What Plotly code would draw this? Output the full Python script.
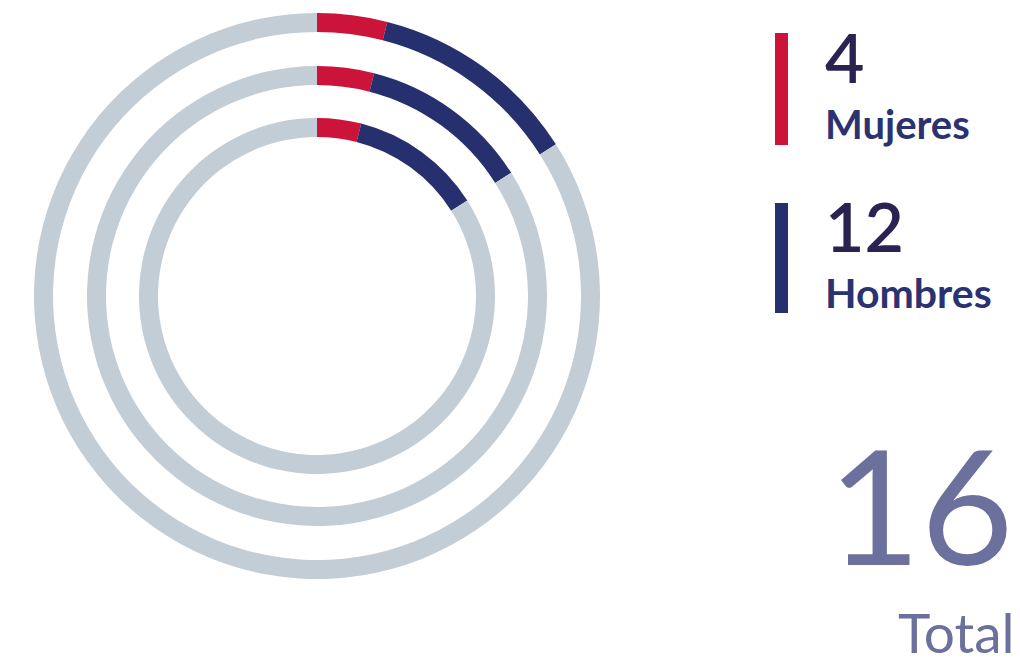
import plotly.graph_objects as go

W, H = 1020, 665

# Data
categorias = ["Mujeres", "Hombres", "Resto"]
mujeres = 4
hombres = 12
resto = 84
total = 16
valores_anillo = [mujeres, hombres, resto]

colores = ["#cc1339", "#27306e", "#c2cdd5"]

# Ring geometry (pixels): centre and outer radius / thickness
cx, cy = 317, 296
anillos = [(283, 19), (230, 19), (178, 19)]


def px_x(x):
    return x / W


def px_y(y):
    return 1 - y / H


fig = go.Figure()

for r, grosor in anillos:
    fig.add_trace(go.Pie(
        labels=categorias,
        values=valores_anillo,
        sort=False,
        direction="clockwise",
        rotation=0,
        hole=(r - grosor) / r,
        marker=dict(colors=colores, line=dict(width=0)),
        textinfo="none",
        hoverinfo="label+value",
        showlegend=False,
        domain=dict(x=[px_x(cx - r), px_x(cx + r)],
                    y=[px_y(cy + r), px_y(cy - r)]),
    ))

# Legend bars
shapes = [
    dict(type="rect", xref="paper", yref="paper",
         x0=px_x(775), x1=px_x(788), y0=px_y(145), y1=px_y(33),
         fillcolor=colores[0], line=dict(width=0)),
    dict(type="rect", xref="paper", yref="paper",
         x0=px_x(775), x1=px_x(788), y0=px_y(313), y1=px_y(203),
         fillcolor=colores[1], line=dict(width=0)),
]

FONT = "Lato"
annotations = [
    dict(text=str(mujeres), x=px_x(823), y=px_y(56), xanchor="left", yanchor="middle",
         font=dict(family=FONT, size=68, weight=600, color="#2a2352")),
    dict(text="<b>Mujeres</b>", x=px_x(823), y=px_y(124), xanchor="left", yanchor="middle",
         font=dict(family=FONT, size=40, color="#2b3270")),
    dict(text=str(hombres), x=px_x(823), y=px_y(225), xanchor="left", yanchor="middle",
         font=dict(family=FONT, size=68, weight=600, color="#2a2352")),
    dict(text="<b>Hombres</b>", x=px_x(823), y=px_y(293), xanchor="left", yanchor="middle",
         font=dict(family=FONT, size=41, color="#2b3270")),
    dict(text=str(total), x=px_x(1016), y=px_y(503), xanchor="right", yanchor="middle",
         font=dict(family=FONT, size=160, color="#6b709c")),
    dict(text="Total", x=px_x(1017), y=px_y(632), xanchor="right", yanchor="middle",
         font=dict(family=FONT, size=55, color="#6b709c")),
]
for a in annotations:
    a.update(xref="paper", yref="paper", showarrow=False)

fig.update_layout(
    width=W, height=H,
    margin=dict(l=0, r=0, t=0, b=0),
    paper_bgcolor="white",
    plot_bgcolor="white",
    shapes=shapes,
    annotations=annotations,
)

fig.write_html("out.html")
